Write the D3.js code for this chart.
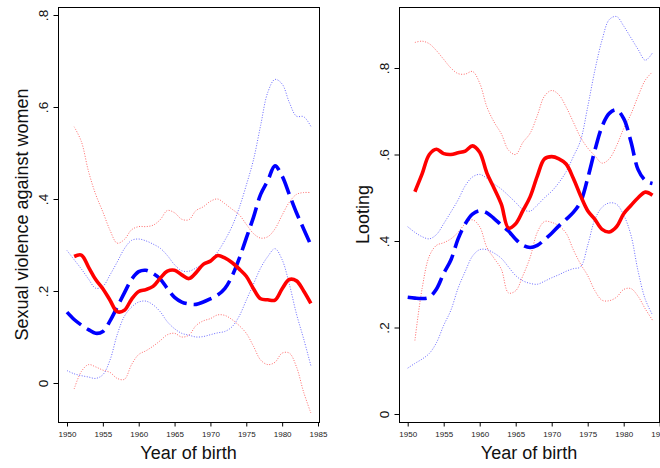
<!DOCTYPE html>
<html><head><meta charset="utf-8">
<script src="https://cdn.jsdelivr.net/npm/d3@7"></script>
<style>body{margin:0;background:#fff}svg{display:block}text{font-family:"Liberation Sans",Arial,Helvetica,sans-serif}</style>
</head><body><svg id="c" width="660" height="468"></svg>
<script>
const years = [1950,1951,1952,1953,1954,1955,1956,1957,1958,1959,1960,1961,1962,1963,1964,1965,1966,1967,1968,1969,1970,1971,1972,1973,1974,1975,1976,1977,1978,1979,1980,1981,1982,1983,1984];
const xTicks = [1950,1955,1960,1965,1970,1975,1980,1985];
const yTicks = [0,0.2,0.4,0.6,0.8];
const yTickLabels = ["0",".2",".4",".6",".8"];

// Left panel: Sexual violence against women
const svRedMid = [null,.275,.278,.252,.225,.205,.18,.155,.158,.182,.199,.203,.21,.228,.243,.245,.235,.227,.24,.258,.265,.277,.272,.262,.248,.232,.205,.183,.181,.18,.205,.225,.222,.2,.173];
const svRedHi  = [null,.557,.525,.46,.41,.372,.332,.304,.312,.333,.34,.34,.343,.355,.375,.37,.356,.355,.375,.383,.395,.4,.39,.378,.366,.345,.325,.315,.318,.335,.365,.393,.41,.414,.414];
const svRedLo  = [null,-.013,.025,.04,.035,.028,.023,.01,.008,.04,.062,.07,.08,.092,.105,.108,.1,.104,.125,.135,.14,.148,.147,.138,.125,.108,.08,.05,.04,.045,.065,.065,.035,-.02,-.065];
const svBlueMid = [.154,.138,.126,.116,.108,.112,.135,.165,.196,.225,.242,.245,.238,.226,.205,.186,.176,.172,.171,.176,.183,.191,.205,.232,.27,.315,.36,.41,.44,.472,.45,.41,.37,.335,.30];
const svBlueHi  = [.288,.268,.248,.226,.206,.21,.235,.263,.292,.31,.313,.309,.302,.293,.277,.257,.244,.243,.25,.259,.268,.285,.31,.34,.38,.43,.485,.56,.632,.66,.65,.61,.58,.579,.558];
const svBlueLo  = [.027,.02,.016,.013,.01,.018,.05,.105,.145,.165,.176,.178,.17,.155,.133,.118,.108,.104,.1,.101,.105,.109,.112,.122,.145,.18,.215,.25,.275,.292,.268,.215,.15,.096,.038];

// Right panel: Looting
const ltRedMid = [null,.514,.555,.60,.612,.602,.60,.604,.608,.62,.605,.557,.522,.485,.43,.44,.47,.502,.55,.59,.595,.59,.578,.545,.505,.47,.45,.427,.421,.433,.463,.482,.50,.513,.506];
const ltRedHi  = [null,.859,.862,.856,.84,.82,.80,.787,.786,.792,.765,.71,.675,.648,.61,.60,.628,.649,.69,.735,.748,.738,.71,.675,.64,.615,.597,.58,.59,.62,.66,.693,.735,.772,.791];
const ltRedLo  = [null,.17,.29,.365,.39,.396,.405,.42,.44,.449,.433,.385,.36,.335,.28,.285,.32,.362,.42,.445,.443,.435,.418,.38,.347,.32,.285,.263,.262,.27,.288,.29,.272,.243,.217];
const ltBlueMid = [.27,.268,.267,.27,.289,.325,.356,.405,.44,.462,.47,.465,.452,.437,.423,.404,.39,.385,.39,.403,.418,.435,.45,.466,.49,.545,.61,.665,.695,.703,.683,.63,.565,.54,.533];
const ltBlueHi  = [.433,.42,.41,.405,.415,.44,.467,.495,.528,.548,.554,.545,.532,.52,.505,.489,.473,.469,.483,.5,.515,.535,.56,.595,.632,.71,.795,.865,.912,.919,.897,.87,.843,.818,.835];
const ltBlueLo  = [.106,.117,.127,.14,.165,.205,.24,.291,.33,.365,.38,.38,.372,.36,.34,.32,.308,.302,.3,.307,.315,.322,.33,.336,.34,.39,.45,.478,.488,.485,.46,.414,.33,.265,.229];

const titles = ["Sexual violence against women","Looting"];
const xTitle = "Year of birth";

const svg = d3.select("#c");
const panels = [
  {frame:[58,319,7,422], xr:[67,318], yr:[383,15], title:titles[0], titleX:27.5,
   red:[svRedMid,svRedHi,svRedLo], blue:[svBlueMid,svBlueHi,svBlueLo]},
  {frame:[399,659,7,422], xr:[407.7,659.7], yr:[414,68], title:titles[1], titleX:369,
   red:[ltRedMid,ltRedHi,ltRedLo], blue:[ltBlueMid,ltBlueHi,ltBlueLo]}
];

panels.forEach(p => {
  const [l,r,t,b] = p.frame;
  const x = d3.scaleLinear().domain([1950,1985]).range(p.xr);
  const y = d3.scaleLinear().domain([0,0.8]).range(p.yr);
  const g = svg.append("g");

  const line = arr => d3.line()
    .defined((d,i) => arr[i] !== null)
    .x((d,i) => x(years[i]))
    .y((d,i) => y(arr[i]))
    .curve(d3.curveCatmullRom.alpha(0.5))(years);

  // dotted CIs
  [[p.red[1],"#ff6a6a"],[p.red[2],"#ff6a6a"],[p.blue[1],"#6a6aff"],[p.blue[2],"#6a6aff"]].forEach(([arr,c]) => {
    g.append("path").attr("d", line(arr)).attr("fill","none").attr("stroke",c)
      .attr("stroke-width",1).attr("stroke-dasharray","1 1.6");
  });
  g.append("path").attr("d", line(p.blue[0])).attr("fill","none").attr("stroke","#0000ff")
    .attr("stroke-width",3.6).attr("stroke-dasharray","19 7");
  g.append("path").attr("d", line(p.red[0])).attr("fill","none").attr("stroke","#ff0000")
    .attr("stroke-width",3.6).attr("stroke-linejoin","round");

  // frame
  g.append("rect").attr("x",l+0.5).attr("y",t+0.5).attr("width",r-l).attr("height",b-t)
    .attr("fill","none").attr("stroke","#000").attr("stroke-width",1);

  // y axis
  const ya = g.append("g").attr("transform",`translate(${l+0.5},0)`)
    .call(d3.axisLeft(y).tickValues(yTicks).tickSize(5).tickFormat((d,i)=>yTickLabels[i]));
  ya.select(".domain").remove();
  ya.selectAll("line").attr("stroke","#000");
  ya.selectAll("text").attr("transform","rotate(-90)").attr("x",0).attr("y",-15.5)
    .attr("dy","0.35em").attr("text-anchor","middle").attr("font-size",13.5).attr("fill","#111")
    .attr("font-family","Liberation Sans, Arial, sans-serif");

  // x axis
  const xa = g.append("g").attr("transform",`translate(0,${b+0.5})`)
    .call(d3.axisBottom(x).tickValues(xTicks).tickSize(4).tickFormat(d3.format("d")));
  xa.select(".domain").remove();
  xa.selectAll("line").attr("stroke","#000");
  xa.selectAll("text").attr("y",12).attr("dy","0.35em").attr("font-size",8).attr("fill","#222")
    .attr("font-family","Liberation Sans, Arial, sans-serif");

  // titles
  g.append("text").attr("transform",`translate(${p.titleX},${(t+b)/2+0}) rotate(-90)`)
    .attr("text-anchor","middle").attr("font-size",18).attr("fill","#111").text(p.title);
  g.append("text").attr("x",(l+r)/2).attr("y",459).attr("text-anchor","middle")
    .attr("font-size",18).attr("fill","#111").text(xTitle);
});
</script></body></html>
